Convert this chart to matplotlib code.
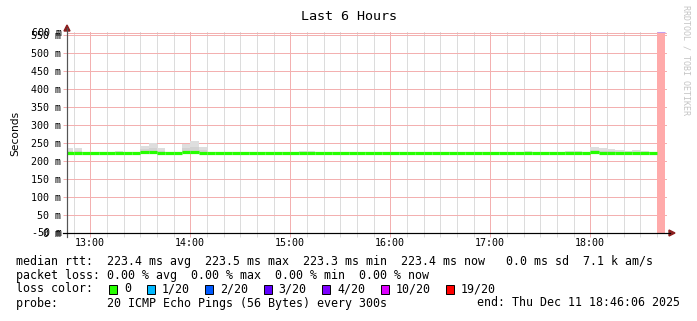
import matplotlib
matplotlib.use("Agg")
import matplotlib.pyplot as plt
import numpy as np
from matplotlib.lines import Line2D
from matplotlib.patches import Rectangle, Polygon

# ---------------- data ----------------
# 5-minute bins, minutes since 12:00, first bin starts 12:45
bin_start = [45, 50, 55, 60, 65, 70, 75, 80, 85, 90, 95, 100, 105, 110, 115, 120, 125, 130,
             135, 140, 145, 150, 155, 160, 165, 170, 175, 180, 185, 190, 195, 200, 205, 210,
             215, 220, 225, 230, 235, 240, 245, 250, 255, 260, 265, 270, 275, 280, 285, 290,
             295, 300, 305, 310, 315, 320, 325, 330, 335, 340, 345, 350, 355, 360, 365, 370,
             375, 380, 385, 390, 395, 400]
bin_width = 5

median_ms = [223.4, 223.4, 223.4, 223.4, 223.4, 223.4, 223.4, 223.4, 223.4, 223.5, 223.5, 223.4,
             223.4, 223.4, 223.5, 223.5, 223.4, 223.4, 223.4, 223.4, 223.4, 223.3, 223.4, 223.4,
             223.4, 223.4, 223.4, 223.4, 223.4, 223.4, 223.4, 223.4, 223.4, 223.4, 223.3, 223.4,
             223.4, 223.4, 223.4, 223.4, 223.4, 223.4, 223.4, 223.4, 223.4, 223.4, 223.4, 223.4,
             223.4, 223.4, 223.4, 223.4, 223.4, 223.4, 223.4, 223.4, 223.4, 223.4, 223.4, 223.4,
             223.4, 223.4, 223.4, 223.5, 223.4, 223.4, 223.4, 223.4, 223.4, 223.4, 223.4, np.nan]

smoke_hi = [235, 235, 225, 225, 225, 225, 227, 225, 226, 242, 249, 235,
            225, 225, 247, 256, 238, 225, 225, 225, 225, 225, 225, 225,
            225, 225, 225, 225, 227, 227, 225, 225, 225, 225, 225, 225,
            225, 225, 225, 225, 225, 225, 225, 225, 225, 225, 225, 225,
            225, 225, 225, 225, 225, 225, 225, 229, 225, 225, 225, 225,
            229, 229, 225, 239, 237, 234, 230, 228, 230, 228, 226, np.nan]

smoke_mid = [228, 228, 224, 224, 224, 224, 224, 224, 224, 234, 236, 229,
             224, 224, 236, 240, 230, 224, 224, 224, 224, 224, 224, 224,
             224, 224, 224, 224, 224, 224, 224, 224, 224, 224, 224, 224,
             224, 224, 224, 224, 224, 224, 224, 224, 224, 224, 224, 224,
             224, 224, 224, 224, 224, 224, 224, 225, 224, 224, 224, 224,
             225, 225, 224, 231, 229, 227, 225, 224, 225, 224, 224, np.nan]

smoke_lo = [222.0] * 71 + [np.nan]

unknown_bins = [400]   # bin start of data-less period

y_ticks = [0, 50, 100, 150, 200, 250, 300, 350, 400, 450, 500, 550]
y_labels = ["0 m", "50 m", "100 m", "150 m", "200 m", "250 m", "300 m", "350 m",
            "400 m", "450 m", "500 m", "550 m"]
y_extra = [(555, "600 m"), (0, "-50 m")]
x_major = [60, 120, 180, 240, 300, 360]
x_labels = ["13:00", "14:00", "15:00", "16:00", "17:00", "18:00"]
x_minor = [50, 70, 80, 90, 100, 110, 130, 140, 150, 160, 170, 190, 200, 210, 220, 230,
           250, 260, 270, 280, 290, 310, 320, 330, 340, 350, 370, 380, 390, 400]
x_range = (46.1, 406.1)
y_range = (0, 558)

title = "Last 6 Hours"
stat_lines = [
    "median rtt:  223.4 ms avg  223.5 ms max  223.3 ms min  223.4 ms now   0.0 ms sd  7.1 k am/s",
    "packet loss: 0.00 % avg  0.00 % max  0.00 % min  0.00 % now",
]
loss_labels = ["0", "1/20", "2/20", "3/20", "4/20", "10/20", "19/20"]
loss_colors = ["#26ff00", "#00b8ff", "#0059ff", "#5e00ff", "#7e00ff", "#dd00ff", "#ff0000"]
probe_text = "probe:       20 ICMP Echo Pings (56 Bytes) every 300s"
end_text = "end: Thu Dec 11 18:46:06 2025"

# ---------------- figure ----------------
W, H = 697, 321
fig = plt.figure(figsize=(W / 100, H / 100), dpi=100)
fig.patch.set_facecolor("white")
MONO = "DejaVu Sans Mono"


def fx(x):
    return x / W


def fy(y):
    return 1 - y / H


ax = fig.add_axes([fx(67), fy(233), fx(667) - fx(67), fy(32) - fy(233)])
ax.set_facecolor("white")
ax.set_xlim(*x_range)
ax.set_ylim(*y_range)

red_grid = "#f3b0b0"
gray_grid = "#dcdcdc"
PX = 0.72

# grid
ax.set_xticks(x_major)
ax.set_xticklabels(x_labels)
ax.set_xticks(x_minor, minor=True)
ax.set_yticks(y_ticks)
ax.set_yticklabels(y_labels)
ax.grid(False)
for v in x_minor:
    ax.axvline(v, color=gray_grid, lw=PX, zorder=0.3, antialiased=False, snap=True)
for v in x_major:
    ax.axvline(v, color=red_grid, lw=PX, zorder=0.4, antialiased=False, snap=True)
for v in y_ticks[1:] + [y_extra[0][0]]:
    ax.axhline(v, color=red_grid, lw=PX, zorder=0.4, antialiased=False, snap=True)

tl = 4 * PX
ax.tick_params(axis="x", which="major", length=tl, width=PX, color=red_grid, pad=1,
               labelsize=7.2, labelcolor="black")
ax.tick_params(axis="x", which="minor", length=tl, width=PX, color=gray_grid)
ax.tick_params(axis="y", which="major", length=tl, width=PX, color=red_grid, pad=1.4,
               labelsize=7.2, labelcolor="black")
for lab in ax.get_xticklabels() + ax.get_yticklabels():
    lab.set_family(MONO)
for s in ax.spines.values():
    s.set_visible(False)

# smoke
starts = np.array(bin_start, dtype=float)
hi = np.array(smoke_hi)
mid = np.array(smoke_mid)
lo = np.array(smoke_lo)
ax.bar(starts, hi - lo, bottom=lo, width=bin_width, align="edge",
       color="#dedede", edgecolor="none", zorder=2)
ax.bar(starts, mid - lo, bottom=lo, width=bin_width, align="edge",
       color="#d2d2d2", edgecolor="none", zorder=2.1)

# median line
med = np.array(median_ms)
ok = ~np.isnan(med)
ax.hlines(med[ok], starts[ok], starts[ok] + bin_width, color=loss_colors[0], lw=2.3, zorder=5)

# unknown region
for b in unknown_bins:
    ax.axvspan(b, b + bin_width, color="#ffaaaa", lw=0, zorder=4)
    ax.plot([b, b + bin_width], [y_range[1] - 0.5, y_range[1] - 0.5], color="#c0a0f0",
            lw=0.8, zorder=4.1, solid_capstyle="butt")

# extra overlapping y labels
for val, txt in y_extra:
    yy = ax.transData.transform((0, val))[1]
    fig.text(fx(61.5), yy / H, txt, ha="right", va="center", family=MONO, size=7.2)

# axis lines and arrows
fig.add_artist(Line2D([fx(67), fx(67)], [fy(237), fy(28)], color="#555555", lw=PX * 1.2))
fig.add_artist(Line2D([fx(63), fx(670)], [fy(233), fy(233)], color="black", lw=PX * 1.2))
arrow_c = "#8b1f1f"
fig.add_artist(Polygon([[fx(64), fy(31)], [fx(70), fy(31)], [fx(67), fy(25)]],
                       closed=True, color=arrow_c, transform=fig.transFigure))
fig.add_artist(Polygon([[fx(669), fy(230)], [fx(669), fy(236)], [fx(675), fy(233)]],
                       closed=True, color=arrow_c, transform=fig.transFigure))

# texts
fig.text(fx(349), fy(16), title, ha="center", va="center", family=MONO, size=9.6)
fig.text(fx(15), fy(133), "Seconds", rotation=90, ha="center", va="center",
         family="DejaVu Sans", size=7.7)
fig.text(fx(686), fy(60), "RRDTOOL / TOBI OETIKER", rotation=270, ha="center", va="center",
         family=MONO, size=6, color="#c4c4c4")

fs = 8.4
fig.text(fx(16), fy(261), stat_lines[0], ha="left", va="center", family=MONO, size=fs)
fig.text(fx(16), fy(275), stat_lines[1], ha="left", va="center", family=MONO, size=fs)
fig.text(fx(16), fy(289), "loss color:", ha="left", va="center", family=MONO, size=fs)
sx = 109
for lab, col in zip(loss_labels, loss_colors):
    fig.add_artist(Rectangle((fx(sx), fy(293.5)), fx(8), fx(0) + 9 / H, facecolor=col,
                             edgecolor="black", lw=0.7, transform=fig.transFigure))
    fig.text(fx(sx + 15), fy(289), lab, ha="left", va="center", family=MONO, size=fs)
    sx = sx + 15 + 7 * len(lab) + 15.5
fig.text(fx(16), fy(303), probe_text, ha="left", va="center", family=MONO, size=fs)
fig.text(fx(680), fy(303), end_text, ha="right", va="center", family=MONO, size=fs)

fig.savefig("out.png", dpi=100, facecolor="white")
